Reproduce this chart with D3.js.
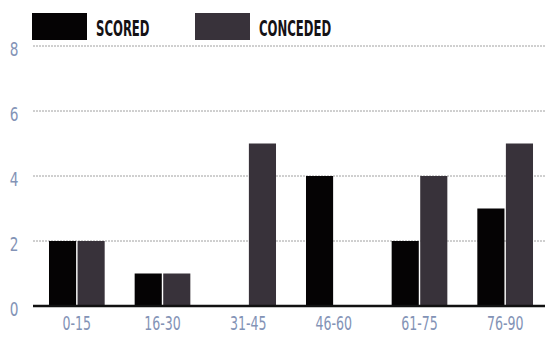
<!DOCTYPE html>
<html>
<head>
<meta charset="utf-8">
<script src="https://cdn.jsdelivr.net/npm/d3@7"></script>
<style>
  body { margin: 0; background: #fff; }
  svg { display: block; }
  .tick-label { font-family: "DejaVu Sans Condensed", "DejaVu Sans", sans-serif; fill: #8393b6; }
  .legend-text { font-family: "DejaVu Sans Condensed", "DejaVu Sans", sans-serif; font-weight: bold; fill: #151215; }
</style>
</head>
<body>
<script>
// chart data
var periods = ['0-15', '16-30', '31-45', '46-60', '61-75', '76-90'];
var scored = [2, 1, 0, 4, 2, 3];
var conceded = [2, 1, 5, 0, 4, 5];
var seriesNames = ['SCORED', 'CONCEDED'];
var yTicks = [0, 2, 4, 6, 8];

var width = 545,
    height = 337,
    colors = ['#050304', '#38323a'];

var svg = d3.select('body').append('svg')
    .attr('width', width)
    .attr('height', height);

var x = d3.scaleBand()
    .domain(periods)
    .range([34, 548])
    .paddingInner(0.35)
    .paddingOuter(0.175);

var xs = d3.scaleBand()
    .domain(seriesNames)
    .range([0, x.bandwidth()])
    .paddingInner(0.05);

var y = d3.scaleLinear()
    .domain([0, 8])
    .range([306, 46]);

// gridlines
svg.append('g').selectAll('line')
    .data(yTicks.filter(function(d) { return d > 0; }))
    .enter().append('line')
    .attr('x1', 33)
    .attr('x2', width)
    .attr('y1', function(d) { return y(d); })
    .attr('y2', function(d) { return y(d); })
    .style('stroke', '#a0a0a0')
    .style('stroke-width', 1)
    .style('stroke-dasharray', '2,1');

// y labels
svg.append('g').selectAll('text')
    .data(yTicks)
    .enter().append('text')
    .classed('tick-label', true)
    .attr('transform', function(d) { return 'translate(14,' + (y(d) + 10) + ') scale(0.8,1)'; })
    .attr('text-anchor', 'middle')
    .style('font-size', '19px')
    .text(function(d) { return d; });

// bars
var rows = periods.map(function(p, i) {
    return {period: p, values: [scored[i], conceded[i]]};
});

var groups = svg.append('g').selectAll('g')
    .data(rows)
    .enter().append('g')
    .attr('transform', function(d) { return 'translate(' + x(d.period) + ',0)'; });

groups.selectAll('rect')
    .data(function(d) { return d.values.map(function(v, j) { return {name: seriesNames[j], value: v, j: j}; }); })
    .enter().append('rect')
    .attr('x', function(d) { return xs(d.name); })
    .attr('width', xs.bandwidth())
    .attr('y', function(d) { return y(d.value); })
    .attr('height', function(d) { return y(0) - y(d.value); })
    .style('fill', function(d) { return colors[d.j]; });

// baseline
svg.append('line')
    .attr('x1', 33)
    .attr('x2', width)
    .attr('y1', y(0))
    .attr('y2', y(0))
    .style('stroke', '#111')
    .style('stroke-width', 2.5);

// x labels
svg.append('g').selectAll('text')
    .data(periods)
    .enter().append('text')
    .classed('tick-label', true)
    .attr('transform', function(d) { return 'translate(' + (x(d) + x.bandwidth() / 2) + ',330) scale(0.7,1)'; })
    .attr('text-anchor', 'middle')
    .style('font-size', '20px')
    .text(function(d) { return d; });

// legend
var legendX = [32, 195];
var legend = svg.append('g').selectAll('g')
    .data(seriesNames)
    .enter().append('g')
    .attr('transform', function(d, i) { return 'translate(' + legendX[i] + ',13)'; });

legend.append('rect')
    .attr('width', 55)
    .attr('height', 27)
    .style('fill', function(d, i) { return colors[i]; });

legend.append('text')
    .classed('legend-text', true)
    .attr('transform', 'translate(64,23) scale(0.59,1)')
    .style('font-size', '22px')
    .text(function(d) { return d; });
</script>
</body>
</html>
